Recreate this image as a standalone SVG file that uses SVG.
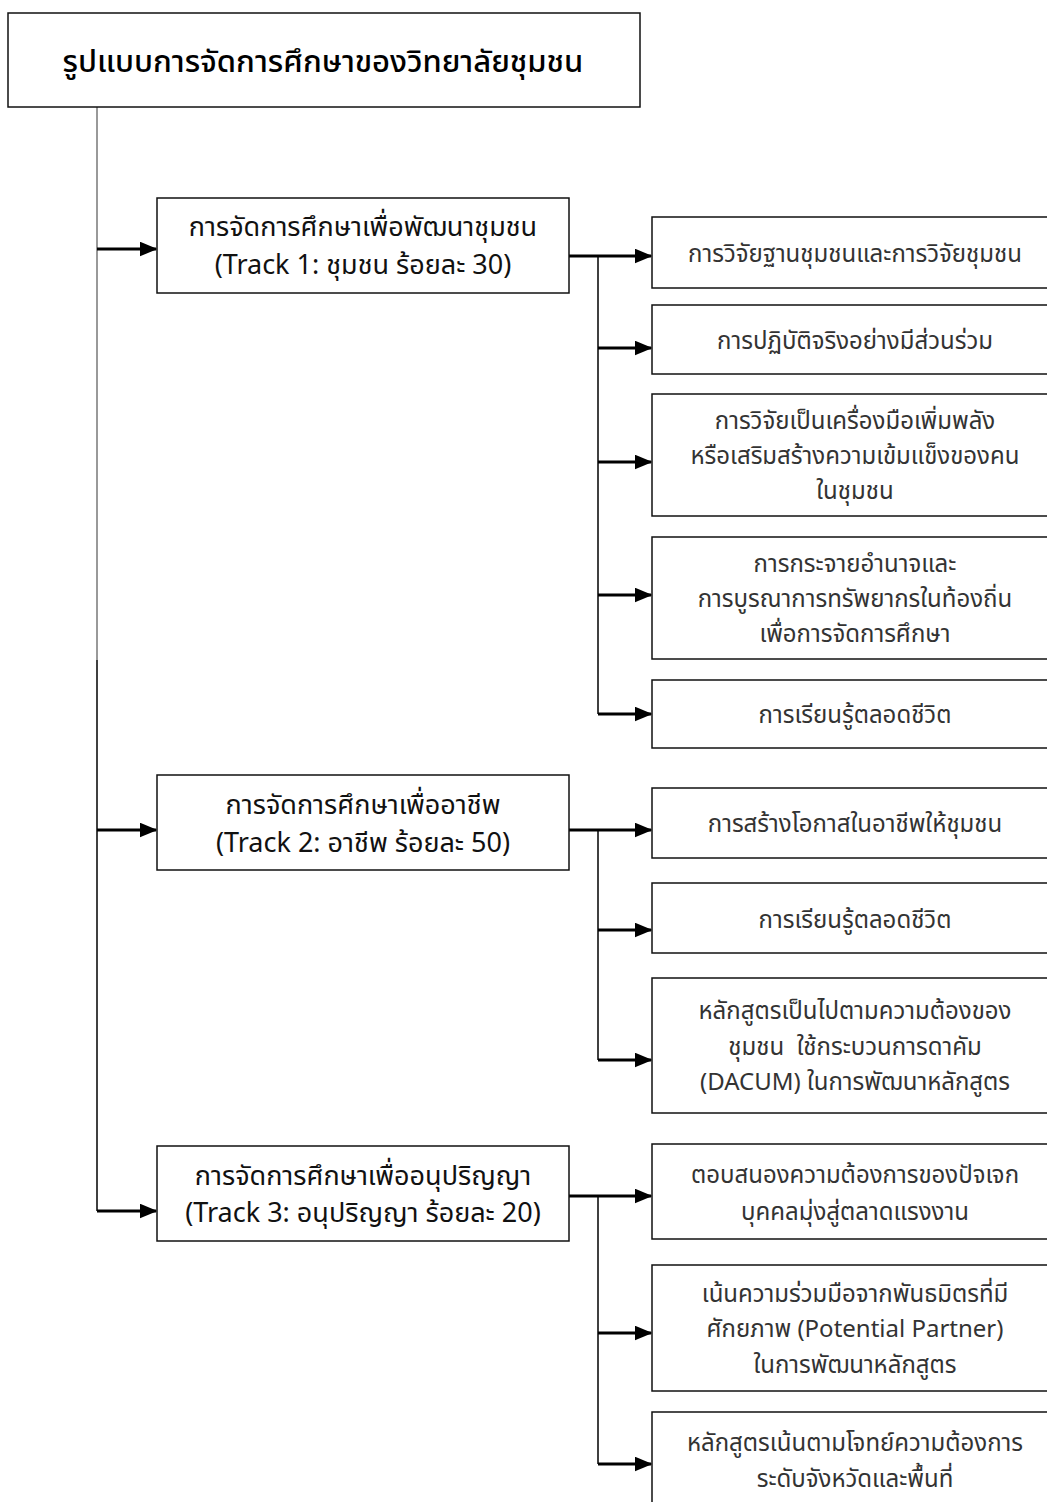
<svg xmlns="http://www.w3.org/2000/svg" width="1047" height="1502" viewBox="0 0 1047 1502">
<defs>
<marker id="ah" markerWidth="6" markerHeight="5" refX="5.5" refY="2.5" orient="auto" markerUnits="strokeWidth">
<path d="M0,0 L6,2.5 L0,5 Z" fill="#000"/>
</marker>
<style>
.box{fill:#fff;stroke:#111;stroke-width:1.5}
.t{font-family:"Noto Sans Thai","Tahoma","Noto Sans",sans-serif;text-anchor:middle;dominant-baseline:middle}
.title{font-size:31px;fill:#000;font-weight:500}
.track{font-size:27px;fill:#111}
.item{font-size:24px;fill:#333}
.arr{stroke:#000;stroke-width:3;fill:none;marker-end:url(#ah)}
.vl{stroke:#000;stroke-width:1.5;fill:none}
</style>
</defs>
<rect width="1047" height="1502" fill="#fff"/>

<g id="connectors">
<line x1="97" y1="107" x2="97" y2="660" stroke="#777" stroke-width="1.5"/>
<line class="vl" x1="97" y1="660" x2="97" y2="1211"/>
<line class="arr" x1="97" y1="249" x2="156" y2="249"/>
<line class="arr" x1="97" y1="830" x2="156" y2="830"/>
<line class="arr" x1="97" y1="1211" x2="156" y2="1211"/>

<line class="vl" x1="598" y1="256" x2="598" y2="714"/>
<line class="arr" x1="569" y1="256" x2="651" y2="256"/>
<line class="arr" x1="598" y1="348" x2="651" y2="348"/>
<line class="arr" x1="598" y1="462" x2="651" y2="462"/>
<line class="arr" x1="598" y1="595" x2="651" y2="595"/>
<line class="arr" x1="598" y1="714" x2="651" y2="714"/>

<line class="vl" x1="598" y1="830" x2="598" y2="1060"/>
<line class="arr" x1="569" y1="830" x2="651" y2="830"/>
<line class="arr" x1="598" y1="930" x2="651" y2="930"/>
<line class="arr" x1="598" y1="1060" x2="651" y2="1060"/>

<line class="vl" x1="598" y1="1196" x2="598" y2="1464"/>
<line class="arr" x1="569" y1="1196" x2="651" y2="1196"/>
<line class="arr" x1="598" y1="1333" x2="651" y2="1333"/>
<line class="arr" x1="598" y1="1464" x2="651" y2="1464"/>
</g>

<g id="title">
<rect class="box" x="8" y="13" width="632" height="94"/>
<text class="t title" x="323" y="63">รูปแบบการจัดการศึกษาของวิทยาลัยชุมชน</text>
</g>

<g id="track1">
<rect class="box" x="157" y="198" width="412" height="95"/>
<text class="t track" x="363" y="228">การจัดการศึกษาเพื่อพัฒนาชุมชน</text>
<text class="t track" x="363" y="266">(Track 1: ชุมชน ร้อยละ 30)</text>
</g>
<g id="track2">
<rect class="box" x="157" y="775" width="412" height="95"/>
<text class="t track" x="363" y="806">การจัดการศึกษาเพื่ออาชีพ</text>
<text class="t track" x="363" y="844">(Track 2: อาชีพ ร้อยละ 50)</text>
</g>
<g id="track3">
<rect class="box" x="157" y="1146" width="412" height="95"/>
<text class="t track" x="363" y="1177">การจัดการศึกษาเพื่ออนุปริญญา</text>
<text class="t track" x="363" y="1214">(Track 3: อนุปริญญา ร้อยละ 20)</text>
</g>

<g id="item1">
<rect class="box" x="652" y="217" width="400" height="71"/>
<text class="t item" x="855" y="255">การวิจัยฐานชุมชนและการวิจัยชุมชน</text>
</g>
<g id="item2">
<rect class="box" x="652" y="305" width="400" height="69"/>
<text class="t item" x="855" y="342">การปฏิบัติจริงอย่างมีส่วนร่วม</text>
</g>
<g id="item3">
<rect class="box" x="652" y="394" width="400" height="122"/>
<text class="t item" x="855" y="422">การวิจัยเป็นเครื่องมือเพิ่มพลัง</text>
<text class="t item" x="855" y="457">หรือเสริมสร้างความเข้มแข็งของคน</text>
<text class="t item" x="855" y="492">ในชุมชน</text>
</g>
<g id="item4">
<rect class="box" x="652" y="537" width="400" height="122"/>
<text class="t item" x="855" y="565">การกระจายอำนาจและ</text>
<text class="t item" x="855" y="600">การบูรณาการทรัพยากรในท้องถิ่น</text>
<text class="t item" x="855" y="635">เพื่อการจัดการศึกษา</text>
</g>
<g id="item5">
<rect class="box" x="652" y="680" width="400" height="68"/>
<text class="t item" x="855" y="716">การเรียนรู้ตลอดชีวิต</text>
</g>
<g id="item6">
<rect class="box" x="652" y="788" width="400" height="70"/>
<text class="t item" x="855" y="825">การสร้างโอกาสในอาชีพให้ชุมชน</text>
</g>
<g id="item7">
<rect class="box" x="652" y="883" width="400" height="70"/>
<text class="t item" x="855" y="921">การเรียนรู้ตลอดชีวิต</text>
</g>
<g id="item8">
<rect class="box" x="652" y="978" width="400" height="135"/>
<text class="t item" x="855" y="1012">หลักสูตรเป็นไปตามความต้องของ</text>
<text class="t item" x="855" y="1048">ชุมชน&#160; ใช้กระบวนการดาคัม</text>
<text class="t item" x="855" y="1083">(DACUM) ในการพัฒนาหลักสูตร</text>
</g>
<g id="item9">
<rect class="box" x="652" y="1144" width="400" height="95"/>
<text class="t item" x="855" y="1176">ตอบสนองความต้องการของปัจเจก</text>
<text class="t item" x="855" y="1213">บุคคลมุ่งสู่ตลาดแรงงาน</text>
</g>
<g id="item10">
<rect class="box" x="652" y="1265" width="400" height="126"/>
<text class="t item" x="855" y="1295">เน้นความร่วมมือจากพันธมิตรที่มี</text>
<text class="t item" x="855" y="1330">ศักยภาพ (Potential Partner)</text>
<text class="t item" x="855" y="1366">ในการพัฒนาหลักสูตร</text>
</g>
<g id="item11">
<rect class="box" x="652" y="1412" width="400" height="100"/>
<text class="t item" x="855" y="1444">หลักสูตรเน้นตามโจทย์ความต้องการ</text>
<text class="t item" x="855" y="1480">ระดับจังหวัดและพื้นที่</text>
</g>
</svg>
